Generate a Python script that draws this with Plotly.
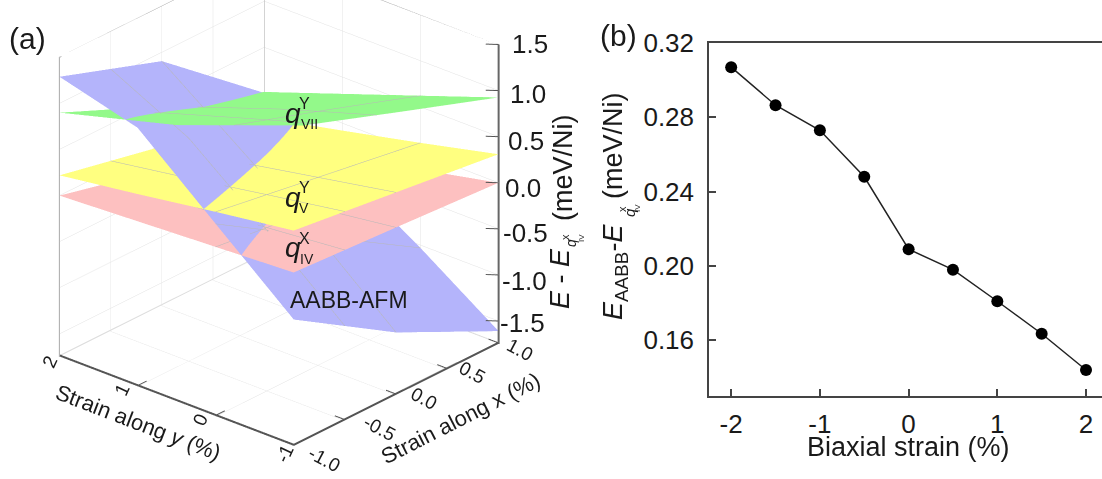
import plotly.graph_objects as go

FONT = "Liberation Sans"
W, H = 1102, 479

# Panel (b)
biaxial = [-2, -1.5, -1, -0.5, 0, 0.5, 1, 1.5, 2]
energy = [0.307, 0.2865, 0.273, 0.248, 0.209, 0.198, 0.181, 0.1635, 0.144]
xtick_b = [-2, -1, 0, 1, 2]
ytick_b = [0.16, 0.20, 0.24, 0.28, 0.32]

# Panel (a) surfaces: rows follow sy, columns follow sx
sx = [-1, 0, 1]
sy = [-1, 0, 1, 2]
blue = [[-0.375, -1.07, -1.61], [0.34, -0.35, -1.03], [1.06, 0.28, -0.5], [1.29, 0.905, 0.005]]
yellow = [[0.59, 0.45, 0.31], [0.47, 0.29, 0.11], [0.34, 0.13, -0.08], [0.22, -0.02, -0.265]]
pink = [[0.135, 0.07, 0.0], [0.09, -0.045, -0.18], [0.045, -0.16, -0.36], [0.0, -0.27, -0.535]]
green_x = [[-0.6, 0.2, 1], [-1, 0, 1], [-1, 0, 1]]
green_y = [[-0.6, -0.8, -1], [0.5, 0.5, 0.5], [2, 2, 2]]
green = [[1.38, 1.15, 0.926], [1.25, 0.87, 0.47], [0.90, 0.417, 0.016]]
BLUE, GREEN, YELLOW, PINK = "#b4b4fb", "#93f98a", "#ffff80", "#fdc0c0"

xticks = [-1.0, -0.5, 0.0, 0.5, 1.0]
yticks = [-1, 0, 1, 2]
zticks = [-1.5, -1.0, -0.5, 0.0, 0.5, 1.0, 1.5]
xr, yr, zr = [-1, 1], [-1, 2], [-1.75, 1.5]

fig = go.Figure()
light = dict(ambient=1, diffuse=0, specular=0, roughness=1, fresnel=0)
def surf(x, y, z, c):
    fig.add_trace(go.Surface(
        x=x, y=y, z=z, colorscale=[[0, c], [1, c]], showscale=False, hoverinfo="skip", lighting=light,
        contours=dict(
            x=dict(show=True, color="#b8b8b8", width=1, start=-0.5, end=0.5, size=0.5, highlight=False),
            y=dict(show=True, color="#b8b8b8", width=1, start=0, end=1, size=1, highlight=False),
            z=dict(highlight=False)),
    ))
surf(sx, sy, blue, BLUE)
surf(green_x, green_y, green, GREEN)
surf(sx, sy, yellow, YELLOW)
surf(sx, sy, pink, PINK)

# Box edges and tick marks, lifted a hair off the floor so they stay in front of it
def edge(xs, ys, zs, color, width):
    fig.add_trace(go.Scatter3d(x=xs, y=ys, z=zs, mode="lines", hoverinfo="skip", showlegend=False,
                               line=dict(color=color, width=width)))
fl = zr[0] + 0.012
edge([-0.995, -0.995, 1], [2, -0.995, -0.995], [fl] * 3, "#555555", 4)
edge([1, 1], [-1, -1], zr, "#666666", 4)
edge([-1, -1, 1, 1], [2, 2, 2, -1], [zr[0], zr[1], zr[1], zr[1]], "#a8a8a8", 2)
edge([1, 1], [2, 2], zr, "#a8a8a8", 2)
edge([-1, 1, 1], [2, 2, -1], [fl] * 3, "#dddddd", 2)
for v in xticks:
    edge([v, v], [-0.995, -0.87], [fl, fl], "#555555", 2)
for v in yticks:
    edge([-0.995, -0.91], [v, v], [fl, fl], "#555555", 2)
for v in zticks:
    edge([1, 0.95], [-1, -0.9], [v, v], "#555555", 2)

axis = dict(showbackground=True, backgroundcolor="white", gridcolor="#e2e2e2", gridwidth=1,
            showticklabels=False, title="", zeroline=False, showspikes=False, showline=False, ticks="")
E = (-0.677, -0.592, 0.436)
NORM = 2.0
CZ = -0.18
fig.update_layout(
    width=W, height=H, autosize=False, margin=dict(l=0, r=0, t=0, b=0),
    paper_bgcolor="white", plot_bgcolor="white", showlegend=False,
    font=dict(family=FONT, size=26, color="#1a1a1a"),
    scene=dict(
        domain=dict(x=[0, 558 / W], y=[0, 1]),
        xaxis=dict(axis, range=xr, tickvals=xticks[1:-1]),
        yaxis=dict(axis, range=yr, tickvals=yticks[1:-1]),
        zaxis=dict(axis, range=zr, tickvals=zticks[:-1]),
        aspectmode="manual", aspectratio=dict(x=1.30, y=1.30, z=1.39),
        camera=dict(eye=dict(x=E[0] * NORM, y=E[1] * NORM, z=E[2] * NORM + CZ),
                    center=dict(x=0, y=0, z=CZ), up=dict(x=0, y=0, z=1),
                    projection=dict(type="orthographic")),
    ),
    xaxis=dict(domain=[709 / W, 1], range=[-2.25, 2.18], tickvals=xtick_b, ticktext=[str(v) for v in xtick_b],
               automargin=False, ticks="inside", ticklen=7, tickwidth=1.5, tickcolor="#444", showline=True,
               linecolor="#444", linewidth=1.5, mirror=True, showgrid=False, zeroline=False, ticklabelstandoff=4),
    yaxis=dict(domain=[1 - 396 / H, 1 - 43 / H], range=[0.13, 0.32], tickvals=ytick_b, automargin=False,
               ticktext=[f"{v:.2f}" for v in ytick_b], ticks="inside", ticklen=7, tickwidth=1.5, tickcolor="#444",
               showline=True, linecolor="#444", linewidth=1.5, showgrid=False, zeroline=False, ticklabelstandoff=8),
)
fig.add_trace(go.Scatter(x=biaxial, y=energy, mode="lines+markers", hoverinfo="skip",
                         line=dict(color="#222", width=1.5), marker=dict(color="black", size=12)))

# Text on the 3D axes
def s_ann(x, y, z, text, size, angle=0, dx=0, dy=0):
    return dict(x=x, y=y, z=z, text=text, showarrow=False, textangle=angle, xshift=dx, yshift=dy,
                font=dict(family=FONT, size=size, color="#1a1a1a"))

anns = []
for v, (dx, dy) in zip(xticks, [(31, -13), (35, -8), (28, -3), (25, -3), (21, -5)]):
    anns.append(s_ann(v, -1, zr[0], f"{v:.1f}", 19, 28, dx, dy))
for v, (dx, dy) in zip(yticks, [(-9, -7), (-15, -3), (-15, -3), (-9, -5)]):
    anns.append(s_ann(-1, v, zr[0], str(v), 19, -65, dx, dy))
for v, (dx, dy) in zip(zticks, [(24, -2), (26, -6), (27, -4), (24, -5), (27, -4), (29, -3), (31, 1)]):
    anns.append(s_ann(1, -1, v, f"{v:.1f}", 26, 0, dx, dy))
fig.layout.scene.annotations = anns

# Text placed on the page
def p_ann(px, py, text, size, angle=0):
    fig.add_annotation(xref="paper", yref="paper", x=px / W, y=1 - py / H, text=text, showarrow=False,
                       textangle=angle, xanchor="center", yanchor="middle",
                       font=dict(family=FONT, size=size, color="#1a1a1a"))

p_ann(27, 38, "(a)", 30)
p_ann(618, 36, "(b)", 30)
p_ann(349, 300, "AABB-AFM", 23)
p_ann(138, 422, "Strain along <i>y</i> (%)", 22, 21)
p_ann(460, 418, "Strain along x (%)", 22, -27)
p_ann(908, 447, "Biaxial strain (%)", 27)
for qy, up, low, lx in [(113, "Y", "VII", 309), (197, "Y", "V", 304), (248, "X", "IV", 307)]:
    p_ann(293, qy, "<i>q</i>", 28)
    p_ann(304, qy - 10, up, 16)
    p_ann(lx, qy + 11, low, 14)
# Vertical title for (a)
p_ann(560, 279, "<i>E</i> - <i>E</i>", 27, -90)
p_ann(571, 243, "<i>q</i>", 14, -90)
p_ann(565, 237, "x", 11, -90)
p_ann(581, 238, "IV", 8, -90)
p_ann(563, 167, "(meV/Ni)", 27, -90)
# Vertical title for (b)
p_ann(615, 272, "<i>E</i><sub>AABB</sub>-<i>E</i>", 27, -90)
p_ann(629, 213, "<i>q</i>", 15, -90)
p_ann(622, 209, "x", 11, -90)
p_ann(637, 208, "IV", 8, -90)
p_ann(613, 146, "(meV/Ni)", 27, -90)

fig.write_html("out.html", config=dict(displayModeBar=False), post_script="document.body.style.margin='0';")
